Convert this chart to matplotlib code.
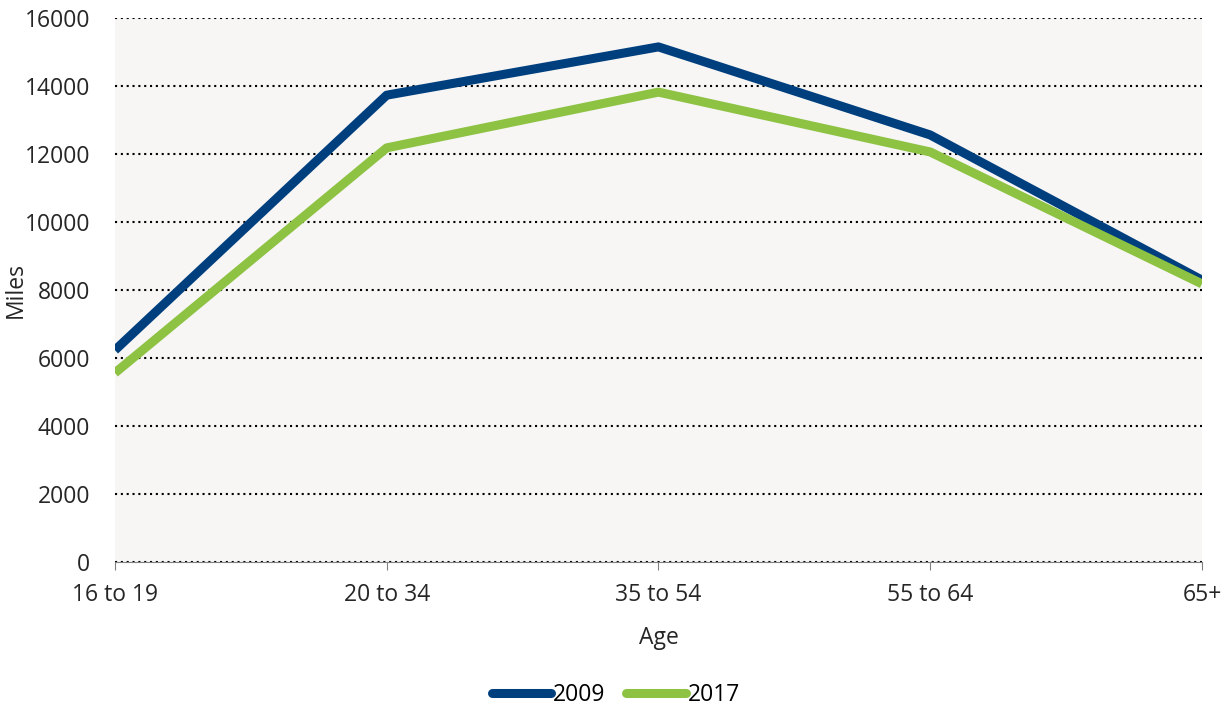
import matplotlib
matplotlib.use("Agg")
import matplotlib.pyplot as plt

plt.rcParams.update({
    "font.family": ["Open Sans", "DejaVu Sans"],
    "font.size": 16.5,
})

ages = ["16 to 19", "20 to 34", "35 to 54", "55 to 64", "65+"]
miles_2009 = [6230, 13730, 15150, 12560, 8290]
miles_2017 = [5560, 12180, 13820, 12060, 8180]

NAVY = "#003F7E"
GREEN = "#8DC243"
TEXT = "#262626"

fig = plt.figure(figsize=(12.32, 7.06), dpi=100)
ax = fig.add_axes([0.0933, 0.204, 0.8823, 0.7705])
ax.set_facecolor("#F7F6F5")

x = range(len(ages))
ax.plot(x, miles_2009, color=NAVY, lw=6.5, label="2009", solid_capstyle="butt")
ax.plot(x, miles_2017, color=GREEN, lw=6.5, label="2017", solid_capstyle="butt")

ax.set_xlim(0, len(ages) - 1)
ax.set_ylim(0, 16000)
ax.set_yticks(range(0, 16001, 2000))
ax.set_xticks(list(x))
ax.set_xticklabels(ages)
ax.grid(axis="y", color="black", linestyle=(0, (1, 1.8)), linewidth=1.5)
ax.set_axisbelow(True)

for s in ["top", "right", "left"]:
    ax.spines[s].set_visible(False)
ax.spines["bottom"].set_color("#808080")
ax.tick_params(axis="y", length=0, pad=18, labelcolor=TEXT)
ax.tick_params(axis="x", length=6, color="#808080", labelcolor=TEXT, pad=9)

ax.set_xlabel("Age", color=TEXT, labelpad=14)
ax.set_ylabel("Miles", color=TEXT)
ax.yaxis.set_label_coords(-0.08, 0.5)

leg = fig.legend(loc="lower center", bbox_to_anchor=(0.5, -0.03), ncol=2, frameon=False,
                 handlelength=2.6, handletextpad=0.1, columnspacing=0.9)
for line in leg.get_lines():
    line.set_solid_capstyle("round")
    line.set_linewidth(6.5)

fig.savefig("out.png", dpi=100, facecolor="white")
